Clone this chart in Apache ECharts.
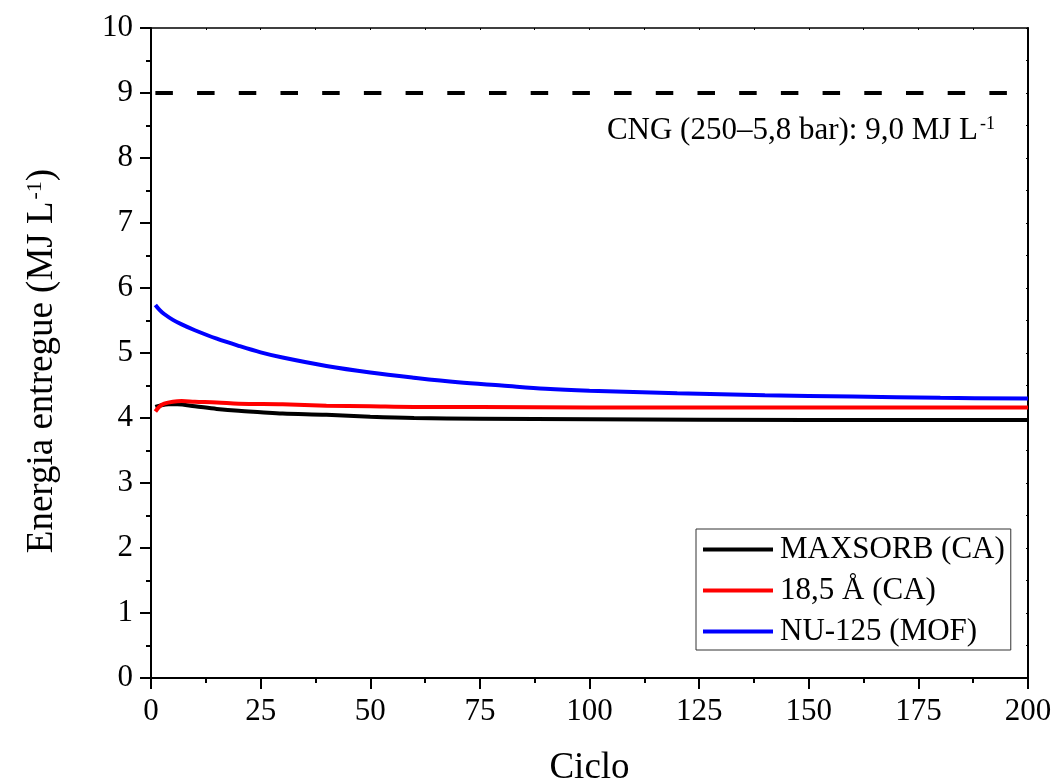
<!DOCTYPE html>
<html>
<head>
<meta charset="utf-8">
<script src="https://cdn.jsdelivr.net/npm/echarts@6/dist/echarts.min.js"></script>
<style>html,body{margin:0;padding:0;background:#fff;overflow:hidden}#c{width:1054px;height:782px}</style>
</head>
<body>
<div id="c"></div>
<script>
const FONT = '"Liberation Serif", "Times New Roman", serif';

const seriesNames = ['MAXSORB (CA)', '18,5 Å (CA)', 'NU-125 (MOF)'];
const seriesColors = ['#000000', '#ff0000', '#0000ff'];

const maxsorbX = [1, 2, 4, 6, 10, 15, 20, 25, 30, 40, 50, 60, 75, 100, 150, 200];
const maxsorbY = [4.17, 4.19, 4.21, 4.21, 4.18, 4.14, 4.11, 4.09, 4.07, 4.05, 4.02, 4.00, 3.99, 3.98, 3.97, 3.97];

const a185X = [1, 2, 3, 5, 7, 10, 15, 20, 30, 40, 50, 60, 75, 100, 150, 200];
const a185Y = [4.10, 4.18, 4.22, 4.25, 4.26, 4.25, 4.24, 4.22, 4.21, 4.19, 4.18, 4.17, 4.17, 4.16, 4.16, 4.16];

const nu125X = [1, 2, 3, 5, 7, 10, 15, 20, 25, 30, 40, 50, 60, 70, 80, 90, 100, 120, 140, 160, 180, 200];
const nu125Y = [5.74, 5.66, 5.60, 5.51, 5.44, 5.35, 5.22, 5.11, 5.01, 4.93, 4.80, 4.70, 4.62, 4.55, 4.50, 4.45, 4.42, 4.38, 4.35, 4.33, 4.31, 4.30];

const cngX = [1, 200];
const cngY = [9.0, 9.0];

const xTicks = [0, 25, 50, 75, 100, 125, 150, 175, 200];
const yTicks = [0, 1, 2, 3, 4, 5, 6, 7, 8, 9, 10];

const zip = (xs, ys) => xs.map((x, i) => [x, ys[i]]);

const el = document.getElementById('c');
const chart = echarts.init(el, null, { width: 1054, height: 782 });
const lineSeries = [[maxsorbX, maxsorbY], [a185X, a185Y], [nu125X, nu125Y]].map((d, i) => ({
  name: seriesNames[i],
  type: 'line',
  xAxisIndex: 0, yAxisIndex: 0,
  data: zip(d[0], d[1]),
  smooth: 0.35,
  showSymbol: false,
  lineStyle: { color: seriesColors[i], width: 4 },
  itemStyle: { color: seriesColors[i] },
  emphasis: { disabled: true },
  z: 3 + i
}));

chart.setOption({
  animation: false,
  backgroundColor: '#fff',
  textStyle: { fontFamily: FONT },
  grid: { left: 151, right: 26, top: 28, bottom: 104, containLabel: false, outerBoundsMode: 'none' },
  legend: {
    data: seriesNames,
    orient: 'vertical',
    left: 696, top: 529,
    icon: 'rect',
    itemWidth: 70, itemHeight: 4,
    itemGap: 10,
    padding: [5, 6, 3, 7],
    borderColor: '#333', borderWidth: 1,
    textStyle: { fontFamily: FONT, fontSize: 31, color: '#000', padding: [0, 0, 0, 2] },
    selectedMode: false
  },
  xAxis: [{
    type: 'value', min: 0, max: 200, interval: 25,
    position: 'bottom',
    name: 'Ciclo', nameLocation: 'middle', nameGap: 72,
    nameTextStyle: { fontFamily: FONT, fontSize: 37, color: '#000' },
    axisLine: { show: true, onZero: false, lineStyle: { color: '#000', width: 2 } },
    axisTick: { show: true, inside: false, length: 11, lineStyle: { color: '#000', width: 2 } },
    minorTick: { show: true, splitNumber: 2, length: 5, lineStyle: { color: '#000', width: 2 } },
    axisLabel: { fontFamily: FONT, fontSize: 31, color: '#000', margin: 18,
      formatter: v => xTicks.includes(v) ? String(v) : '' },
    splitLine: { show: false }
  }, {
    type: 'value', min: 0, max: 200, interval: 12.5,
    position: 'top',
    axisLine: { show: true, onZero: false, lineStyle: { color: '#000', width: 1.5 } },
    axisTick: { show: true, inside: true, length: 2, lineStyle: { color: '#000', width: 1 } },
    axisLabel: { show: false },
    splitLine: { show: false }
  }],
  yAxis: [{
    type: 'value', min: 0, max: 10, interval: 1,
    position: 'left',
    name: 'Energia entregue (MJ L{sup|-1})', nameLocation: 'middle', nameGap: 90, nameRotate: 90,
    nameTextStyle: { fontFamily: FONT, fontSize: 37, color: '#000', padding: [0, 16, 0, 0],
      rich: { sup: { fontFamily: FONT, fontSize: 22, color: '#000', verticalAlign: 'top', padding: [0, 0, 0, 2] } } },
    axisLine: { show: true, onZero: false, lineStyle: { color: '#000', width: 2 } },
    axisTick: { show: true, inside: false, length: 11, lineStyle: { color: '#000', width: 2 } },
    minorTick: { show: true, splitNumber: 2, length: 5, lineStyle: { color: '#000', width: 2 } },
    axisLabel: { fontFamily: FONT, fontSize: 31, color: '#000', margin: 18,
      formatter: v => yTicks.includes(v) ? String(v) : '' },
    splitLine: { show: false }
  }, {
    type: 'value', min: 0, max: 10, interval: 0.5,
    position: 'right',
    axisLine: { show: true, onZero: false, lineStyle: { color: '#000', width: 2 } },
    axisTick: { show: true, inside: true, length: 2, lineStyle: { color: '#000', width: 1 } },
    axisLabel: { show: false },
    splitLine: { show: false }
  }],
  graphic: [{
    type: 'text',
    right: 1054 - 995, top: 115,
    style: {
      text: 'CNG (250–5,8 bar): 9,0 MJ L{sup|-1}',
      fontFamily: FONT, fontSize: 31, fill: '#000',
      rich: { sup: { fontFamily: FONT, fontSize: 18, fill: '#000', verticalAlign: 'top', padding: [0, 0, 0, 2] } }
    },
    z: 10
  }],
  series: lineSeries.concat([{
    name: 'CNG',
    type: 'line',
    data: zip(cngX, cngY),
    showSymbol: false,
    lineStyle: { color: '#000', width: 4, type: [17.5, 24.2] },
    emphasis: { disabled: true },
    z: 2
  }])
});
</script>
</body>
</html>
